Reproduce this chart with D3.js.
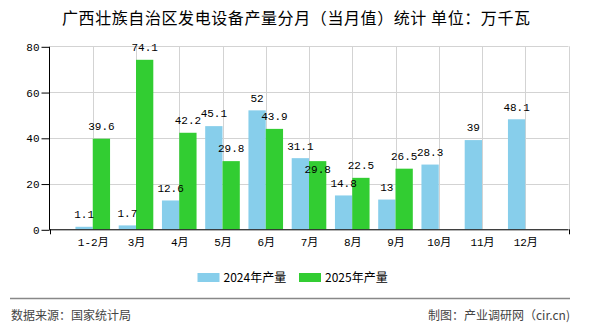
<!DOCTYPE html>
<html>
<head>
<meta charset="utf-8">
<script src="https://cdn.jsdelivr.net/npm/d3@7"></script>
<style>
html,body{margin:0;padding:0;background:#fff;}
svg{display:block;}
</style>
</head>
<body>
<svg id="chart" width="590" height="330"></svg>
<script>
const categories = ["1-2月","3月","4月","5月","6月","7月","8月","9月","10月","11月","12月"];
const values2024 = [1.1, 1.7, 12.6, 45.1, 52, 31.1, 14.8, 13, 28.3, 39, 48.1];
const values2025 = [39.6, 74.1, 42.2, 29.8, 43.9, 29.8, 22.5, 26.5, null, null, null];
const yTicks = [0, 20, 40, 60, 80];
const seriesNames = ["2024年产量", "2025年产量"];
const seriesColors = ["#87CEEB", "#32CD32"];
const titleText = "广西壮族自治区发电设备产量分月（当月值）统计 单位：万千瓦";
const sourceText = "数据来源：国家统计局";
const creditText = "制图：产业调研网（cir.cn)";

(function () {
const svg = d3.select("#chart");
const pL = 49.5, pR = 568.5, pT = 46.3, pB = 229.3;
const monoFont = "'Liberation Mono','Noto Sans CJK SC',monospace";
const cjkFont = "'Noto Sans CJK SC','Liberation Sans',sans-serif";

const x = d3.scaleLinear().domain([0, categories.length + 1]).range([pL, pR]);
const y = d3.scaleLinear().domain([0, 80]).range([pB, pT]);
const step = x(1) - x(0);
const barW = step * 0.4;

// title
svg.append("text").attr("x", 62).attr("y", 18.5).attr("dy", "0.35em")
  .attr("xml:space", "preserve")
  .attr("textLength", 468).attr("lengthAdjust", "spacing")
  .attr("font-family", cjkFont).attr("font-size", 16)
  .attr("fill", "#000").text(titleText);

// horizontal grid
svg.append("g").selectAll("line").data(yTicks).join("line")
  .attr("x1", pL).attr("x2", pR).attr("y1", d => Math.round(y(d)) + 0.5).attr("y2", d => Math.round(y(d)) + 0.5)
  .attr("stroke", "#d3d3d3").attr("stroke-width", 1);
// vertical grid
const vgrid = d3.range(1, categories.length + 2);
svg.append("g").selectAll("line").data(vgrid).join("line")
  .attr("x1", d => Math.round(x(d)) + 0.5).attr("x2", d => Math.round(x(d)) + 0.5)
  .attr("y1", pT).attr("y2", pB)
  .attr("stroke", "#d3d3d3").attr("stroke-width", 1);

// bars
const g = svg.append("g");
g.selectAll("rect.b24").data(values2024).join("rect").attr("class", "b24")
  .attr("x", (d, i) => x(i + 1) - barW).attr("width", barW)
  .attr("y", d => y(d)).attr("height", d => y(0) - y(d)).attr("fill", seriesColors[0]);
const v25 = values2025.map((d, i) => ({v: d, i})).filter(d => d.v != null);
g.selectAll("rect.b25").data(v25).join("rect").attr("class", "b25")
  .attr("x", d => x(d.i + 1)).attr("width", barW)
  .attr("y", d => y(d.v)).attr("height", d => y(0) - y(d.v)).attr("fill", seriesColors[1]);

// y axis
const yAxis = d3.axisLeft(y).tickValues(yTicks).tickSize(8).tickPadding(2);
const ya = svg.append("g").attr("transform", `translate(${pL},0.5)`).call(yAxis);
ya.select(".domain").attr("stroke", "#000").attr("d", `M0,${pT}V${pB}`);
ya.selectAll(".tick line").attr("stroke", "#000");
ya.selectAll(".tick text").attr("font-family", monoFont).attr("font-size", 11).attr("fill", "#000");

// x axis
const xAxis = d3.axisBottom(x).tickValues(d3.range(1, categories.length + 1))
  .tickFormat(d => categories[d - 1]).tickSize(0).tickPadding(8);
const xa = svg.append("g").attr("transform", `translate(0,${pB + 0.5})`).call(xAxis);
xa.select(".domain").attr("stroke", "#000").attr("d", `M${pL},0H${pR}`);
xa.selectAll(".tick text").attr("font-family", monoFont).attr("font-size", 11).attr("fill", "#000");
// end ticks
svg.append("g").selectAll("line").data([0, categories.length + 1]).join("line")
  .attr("x1", d => Math.round(x(d)) + 0.5).attr("x2", d => Math.round(x(d)) + 0.5)
  .attr("y1", pB).attr("y2", pB + 5).attr("stroke", "#000");

// labels
const labelOff = 12.5;
const lab24 = values2024.map((v, i) => ({v, i, cx: x(i + 1) - barW / 2, cy: y(v) - labelOff}));
const lab25 = v25.map(d => {
  let cy = y(d.v) - labelOff;
  const other = lab24[d.i];
  if (other && Math.abs(other.cy - cy) < 12) cy = y(d.v) + 8;
  return {v: d.v, i: d.i, cx: x(d.i + 1) + barW / 2, cy};
});
svg.append("g").selectAll("text").data(lab24.concat(lab25)).join("text")
  .attr("x", d => d.cx).attr("y", d => d.cy).attr("dy", "0.35em")
  .attr("text-anchor", "middle").attr("font-family", monoFont).attr("font-size", 11)
  .attr("fill", "#000").text(d => d.v);

// legend
const legX = [197.5, 299];
const lg = svg.append("g").selectAll("g").data(seriesNames).join("g")
  .attr("transform", (d, i) => `translate(${legX[i]},273)`);
lg.append("rect").attr("width", 22).attr("height", 9).attr("fill", (d, i) => seriesColors[i]);
lg.append("text").attr("x", 26).attr("y", 4.5).attr("dy", "0.35em")
  .attr("font-family", cjkFont).attr("font-size", 12).attr("fill", "#000").text(d => d);

// footer
svg.append("line").attr("x1", 10).attr("x2", 570).attr("y1", 298.5).attr("y2", 298.5)
  .attr("stroke", "#888").attr("stroke-width", 1.5);
svg.append("text").attr("x", 11).attr("y", 316).attr("dy", "0.35em")
  .attr("font-family", cjkFont).attr("font-size", 12).attr("fill", "#444").text(sourceText);
svg.append("text").attr("x", 570).attr("y", 316).attr("dy", "0.35em").attr("text-anchor", "end")
  .attr("font-family", cjkFont).attr("font-size", 12).attr("fill", "#444").text(creditText);
})();
</script>
</body>
</html>
